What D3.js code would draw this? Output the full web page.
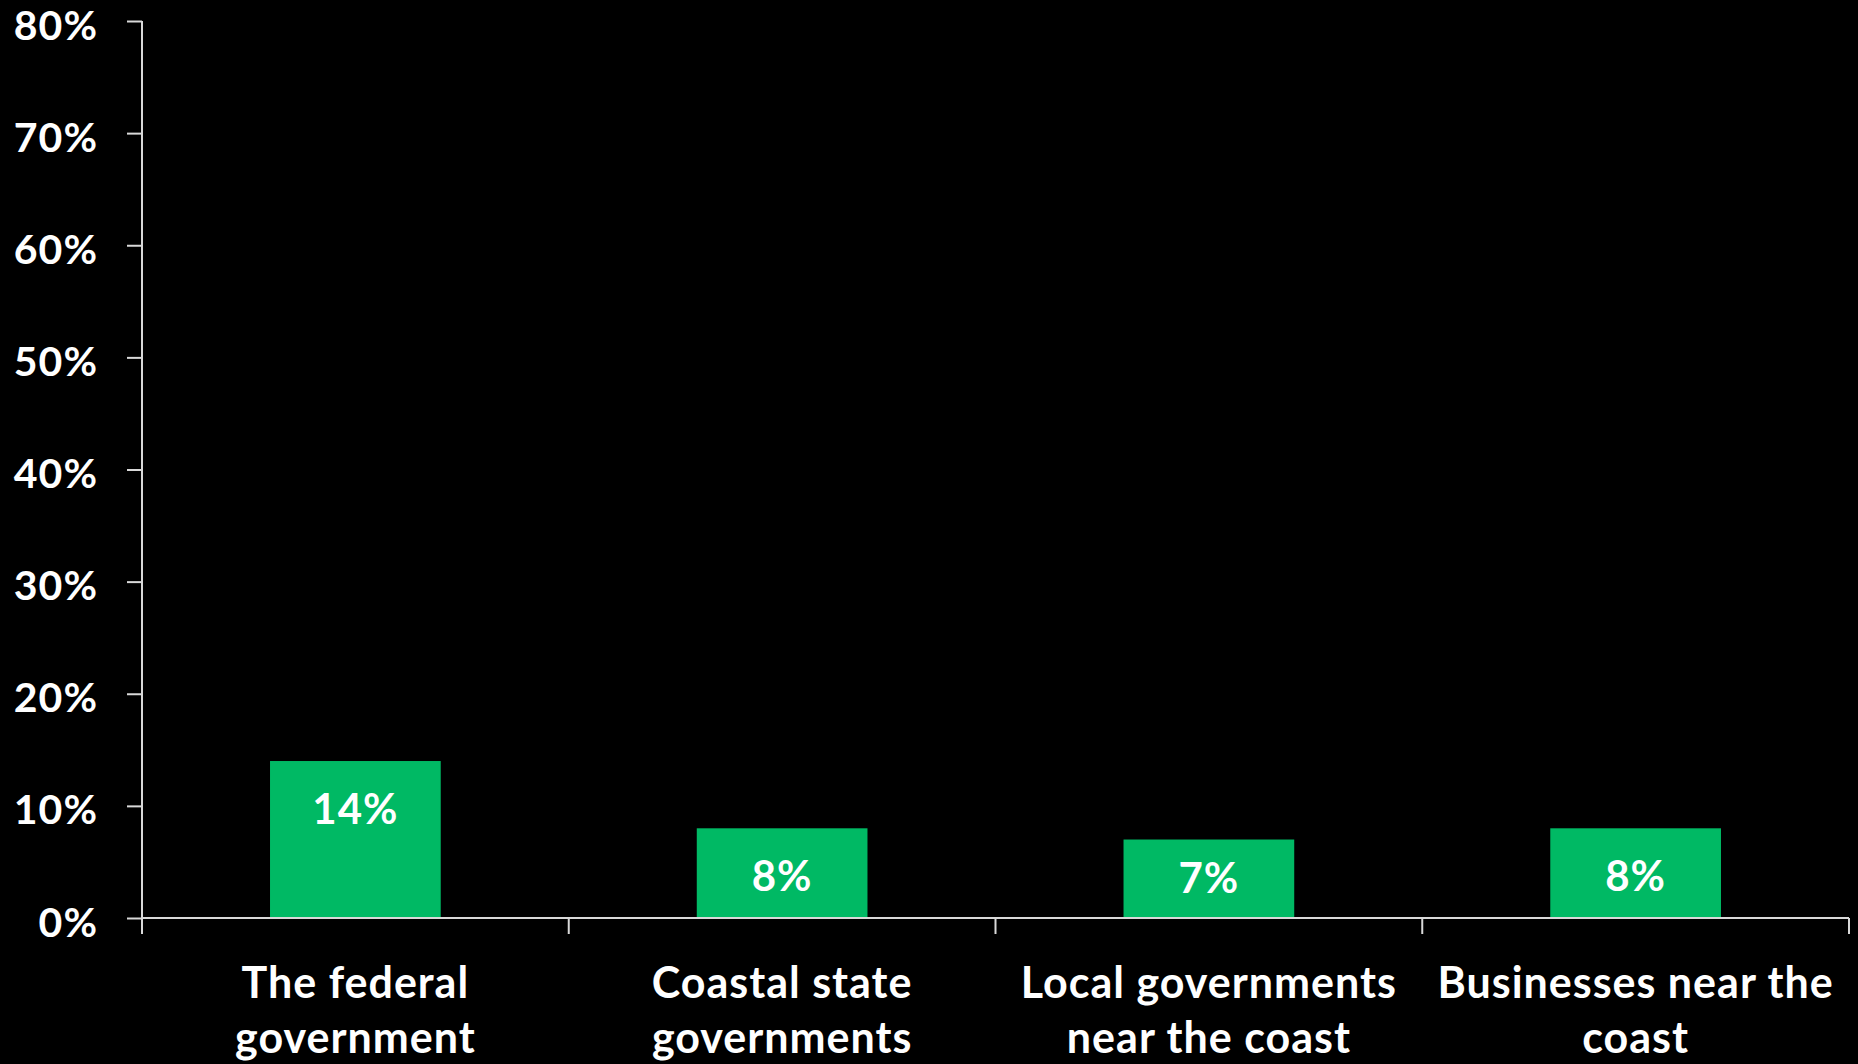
<!DOCTYPE html>
<html>
<head>
<meta charset="utf-8">
<script src="https://cdn.jsdelivr.net/npm/d3@7"></script>
<style>
  html, body { margin: 0; padding: 0; background: #000; }
  svg { display: block; }
  text { font-family: Lato, "Open Sans", sans-serif; font-weight: 700; fill: #fff; }
</style>
</head>
<body>
<svg id="chart" width="1858" height="1064"></svg>
<script>
const categories = [
  ["The federal", "government"],
  ["Coastal state", "governments"],
  ["Local governments", "near the coast"],
  ["Businesses near the", "coast"]
];
const values = [0.14, 0.08, 0.07, 0.08];
const valueLabels = ["14%", "8%", "7%", "8%"];
const yTicks = [0, 0.1, 0.2, 0.3, 0.4, 0.5, 0.6, 0.7, 0.8];
const yTickLabels = ["0%", "10%", "20%", "30%", "40%", "50%", "60%", "70%", "80%"];

const W = 1858, H = 1064;
const mLeft = 142, mRight = 1849, mTop = 21, mBottom = 918;
const svg = d3.select("#chart");
svg.append("rect").attr("width", W).attr("height", H).attr("fill", "#000");

const keys = categories.map((d, i) => i);
const x = d3.scaleBand().domain(keys).range([mLeft, mRight]).paddingInner(0.6).paddingOuter(0.3);
const xEdge = d3.scaleBand().domain(keys).range([mLeft, mRight]).padding(0);
const y = d3.scaleLinear().domain([0, 0.8]).range([mBottom, mTop]);

const axisColor = "#d9d9d9";

// bars
svg.append("g").selectAll("rect").data(values).join("rect")
  .attr("x", (d, i) => x(i))
  .attr("y", d => y(d))
  .attr("width", x.bandwidth())
  .attr("height", d => y(0) - y(d))
  .attr("fill", "#00b964");

// y axis
const yAxis = d3.axisLeft(y).tickValues(yTicks).tickSize(15).tickFormat((d, i) => yTickLabels[i]);
const gy = svg.append("g").attr("transform", `translate(${mLeft},0)`).call(yAxis);
gy.select(".domain").remove();
gy.selectAll(".tick line").attr("stroke", axisColor).attr("stroke-width", 2);
gy.selectAll(".tick text")
  .attr("x", -44).attr("dy", null).attr("y", 18)
  .attr("text-anchor", "end")
  .style("font-size", "41px")
  .style("letter-spacing", "1px")
  .style("font-family", "Lato, 'Open Sans', sans-serif")
  .style("font-weight", 700)
  .attr("fill", "#fff");
svg.append("line").attr("x1", mLeft).attr("x2", mLeft).attr("y1", y(0.8)).attr("y2", y(0) + 16)
  .attr("stroke", axisColor).attr("stroke-width", 2);

// x axis
svg.append("line").attr("x1", mLeft).attr("x2", mRight).attr("y1", y(0)).attr("y2", y(0))
  .attr("stroke", axisColor).attr("stroke-width", 2);
const edges = keys.map(k => xEdge(k) + xEdge.bandwidth());
svg.append("g").selectAll("line").data(edges).join("line")
  .attr("x1", d => d).attr("x2", d => d)
  .attr("y1", y(0)).attr("y2", y(0) + 16)
  .attr("stroke", axisColor).attr("stroke-width", 2);

// category labels
const cl = svg.append("g").selectAll("text").data(categories).join("text")
  .attr("text-anchor", "middle")
  .attr("x", (d, i) => x(i) + x.bandwidth() / 2)
  .attr("y", y(0) + 80)
  .style("font-size", "43px")
  .style("letter-spacing", "1px");
cl.selectAll("tspan").data(d => d).join("tspan")
  .attr("x", function() { return this.parentNode.getAttribute("x"); })
  .attr("dy", (d, j) => j === 0 ? 0 : 55)
  .text(d => d);

// value labels
svg.append("g").selectAll("text").data(values).join("text")
  .attr("text-anchor", "middle")
  .attr("x", (d, i) => x(i) + x.bandwidth() / 2)
  .attr("y", d => Math.min(y(d) + 48, y(0) - 40) + 15)
  .style("font-size", "42px")
  .style("letter-spacing", "1px")
  .text((d, i) => valueLabels[i]);
</script>
</body>
</html>
